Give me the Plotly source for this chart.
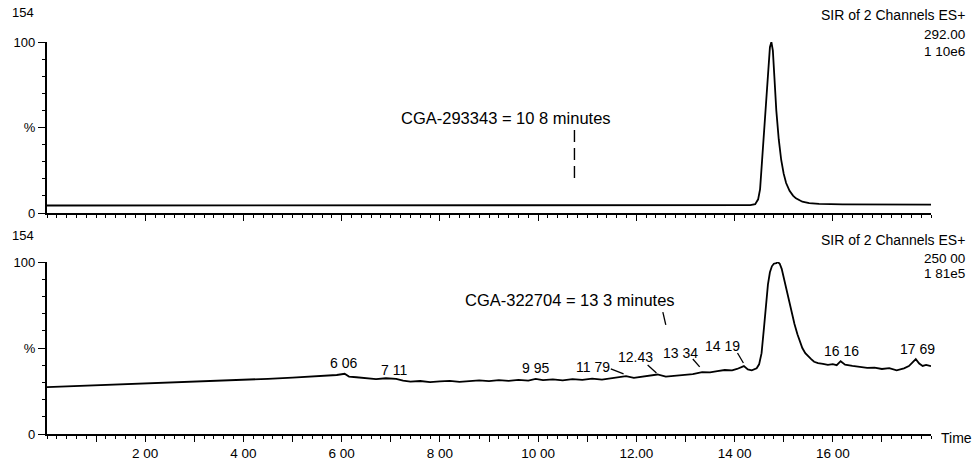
import plotly.graph_objects as go

# ---------------- data ----------------
top_time = [0.0, 1.0, 2.0, 3.0, 4.0, 5.0, 6.0, 7.0, 8.0, 9.0, 10.0, 11.0, 12.0, 13.0, 14.0,
            14.32, 14.42, 14.48, 14.52, 14.56, 14.60, 14.64, 14.68, 14.72, 14.75, 14.78,
            14.81, 14.85, 14.90, 14.95, 15.00, 15.05, 15.12, 15.19, 15.25, 15.38, 15.52,
            15.72, 16.2, 16.6, 17.0, 17.5, 18.0]
top_pct = [4.4, 4.4, 4.4, 4.4, 4.4, 4.4, 4.3, 4.4, 4.4, 4.4, 4.4, 4.4, 4.4, 4.5, 4.5,
           4.6, 5.2, 8.0, 14.0, 30.0, 48.0, 62.0, 80.0, 97.0, 100.0, 95.0,
           80.0, 60.0, 43.0, 31.0, 23.0, 17.5, 13.0, 10.2, 8.6, 6.6, 5.8,
           5.3, 5.1, 5.0, 5.0, 4.9, 4.9]

bot_time = [0.0, 0.5, 1.0, 1.5, 2.0, 2.5, 3.0, 3.5, 4.0, 4.5, 5.0, 5.5, 5.9, 6.06, 6.15,
            6.3, 6.5, 6.7, 6.9, 7.11, 7.25, 7.4, 7.6, 7.8, 8.0, 8.2, 8.4, 8.6, 8.8, 9.0,
            9.2, 9.4, 9.6, 9.8, 9.95, 10.1, 10.3, 10.5, 10.7, 10.9, 11.1, 11.3, 11.5,
            11.65, 11.79, 11.95, 12.1, 12.25, 12.43, 12.6, 12.8, 13.0, 13.15, 13.34,
            13.5, 13.65, 13.8, 13.95, 14.05, 14.19, 14.27, 14.35, 14.45, 14.50, 14.55,
            14.60, 14.64, 14.68, 14.72, 14.76, 14.80, 14.85, 14.88, 14.92, 14.96, 15.00,
            15.04, 15.08, 15.12, 15.16, 15.22, 15.28, 15.33, 15.38, 15.44, 15.50, 15.56,
            15.62, 15.70, 15.80, 15.90, 16.00, 16.08, 16.16, 16.25, 16.4, 16.55, 16.7,
            16.85, 17.0, 17.15, 17.3, 17.45, 17.55, 17.62, 17.69, 17.76, 17.83, 17.9, 18.0]
bot_pct = [27.3, 27.8, 28.2, 28.8, 29.3, 29.9, 30.4, 31.0, 31.5, 32.1, 32.8, 33.6, 34.3, 35.0, 33.4,
           33.0, 32.3, 31.9, 32.4, 32.0, 31.0, 30.4, 30.8, 30.2, 30.6, 30.9, 30.3, 30.8, 31.2, 30.7,
           31.3, 30.9, 31.5, 31.0, 32.0, 31.3, 31.8, 31.2, 31.9, 31.5, 32.2, 31.6, 32.3,
           32.8, 33.6, 32.6, 33.2, 33.8, 34.6, 33.4, 33.9, 34.4, 34.8, 36.0,
           35.8, 36.6, 37.2, 37.0, 37.8, 39.5, 37.6, 37.0, 38.2, 40.5, 47.0,
           62.0, 77.0, 87.0, 94.0, 97.5, 99.0, 99.3, 100.0, 99.0, 96.0, 91.0,
           85.0, 80.0, 75.0, 70.0, 64.0, 58.0, 54.0, 50.0, 47.0, 45.0, 43.5,
           42.0, 41.2, 40.8, 40.2, 40.6, 40.0, 42.3, 40.3, 39.6, 39.0, 38.4,
           38.6, 37.8, 38.3, 37.0, 38.2, 39.5, 41.5, 43.5, 41.0, 39.6, 40.2, 39.4]

x_tickvals = [1, 2, 3, 4, 5, 6, 7, 8, 9, 10, 11, 12, 13, 14, 15, 16, 17]
x_ticktext = ["", "2 00", "", "4 00", "", "6 00", "", "8 00", "", "10 00", "",
              "12.00", "", "14 00", "", "16 00", ""]
y_tickvals = [0, 50, 100]
y_ticktext = ["0", "%", "100"]

# peak labels (text, time, %)
top_peak_labels = [("14 83", 14.73, 105.5)]
bot_peak_labels = [("6 06", 6.04, 41.3), ("7 11", 7.06, 37.2), ("9 95", 9.95, 38.4),
                   ("11 79", 11.11, 39.0), ("12.43", 11.99, 44.8), ("13 34", 12.90, 47.1),
                   ("14 19", 13.76, 51.2), ("14 88", 14.84, 104.1), ("16 16", 16.18, 48.3),
                   ("17 69", 17.73, 49.4)]

W, H = 977, 467
FONT = "Liberation Sans, Arial, sans-serif"
L, R = 47, 931

def px(x):
    return x / W

def py(y):
    return 1 - y / H

fig = go.Figure()
fig.add_trace(go.Scatter(x=top_time, y=top_pct, mode="lines",
                         line=dict(color="black", width=1.8), xaxis="x", yaxis="y",
                         hoverinfo="skip", showlegend=False, cliponaxis=False))
fig.add_trace(go.Scatter(x=bot_time, y=bot_pct, mode="lines",
                         line=dict(color="black", width=1.8), xaxis="x2", yaxis="y2",
                         hoverinfo="skip", showlegend=False, cliponaxis=False))

xcommon = dict(range=[0, 18.0], domain=[px(L), px(R)], showgrid=False, zeroline=False,
               showline=True, linecolor="black", linewidth=2.4,
               ticks="outside", ticklen=6, tickwidth=1.4, tickcolor="black",
               tickvals=x_tickvals, ticktext=x_ticktext,
               minor=dict(dtick=0.2, tick0=0, ticks="outside", ticklen=3,
                          tickwidth=1.1, tickcolor="black"),
               tickfont=dict(family=FONT, size=13.5, color="black"),
               automargin=False, fixedrange=True)
ycommon = dict(range=[0, 100], showgrid=False, zeroline=False,
               showline=True, linecolor="black", linewidth=2.4,
               ticks="outside", ticklen=7, tickwidth=1.4, tickcolor="black",
               tickvals=y_tickvals, ticktext=y_ticktext, ticklabelstandoff=0,
               minor=dict(dtick=10, tick0=0, ticks="outside", ticklen=3,
                          tickwidth=1.1, tickcolor="black"),
               tickfont=dict(family=FONT, size=13, color="black"),
               automargin=False, fixedrange=True)

fig.update_layout(
    width=W, height=H,
    margin=dict(l=0, r=0, t=0, b=0),
    paper_bgcolor="white", plot_bgcolor="white",
    xaxis=dict(**xcommon, anchor="y", showticklabels=False),
    yaxis=dict(**ycommon, anchor="x", domain=[py(213), py(42)]),
    xaxis2=dict(**xcommon, anchor="y2"),
    yaxis2=dict(**ycommon, anchor="x2", domain=[py(434), py(262)]),
    font=dict(family=FONT, size=13, color="black"),
)

ann = []
def paper_text(t, x, y, xanchor="center", size=13):
    ann.append(dict(text=t, x=px(x), y=py(y), xref="paper", yref="paper",
                    xanchor=xanchor, yanchor="middle", showarrow=False,
                    font=dict(family=FONT, size=size, color="black")))

paper_text("154", 23, 13, size=13)
paper_text("154", 23, 235, size=13)
paper_text("SIR of 2 Channels ES+", 967, 15, "right", 14)
paper_text("292.00", 967, 34, "right", 13.5)
paper_text("1 10e6", 967, 52, "right", 13.5)
paper_text("SIR of 2 Channels ES+", 967, 240, "right", 14)
paper_text("250 00", 967, 258, "right", 13.5)
paper_text("1 81e5", 967, 273, "right", 13.5)
paper_text("Time", 939, 438, "left", 14)

for t, x, y in top_peak_labels:
    ann.append(dict(text=t, x=x, y=y, xref="x", yref="y", showarrow=False,
                    font=dict(family=FONT, size=14, color="black")))
for t, x, y in bot_peak_labels:
    ann.append(dict(text=t, x=x, y=y, xref="x2", yref="y2", showarrow=False,
                    font=dict(family=FONT, size=14, color="black")))

ann.append(dict(text="CGA-293343 = 10 8 minutes", x=9.34, y=55.6, xref="x", yref="y",
                showarrow=False, font=dict(family=FONT, size=16.5, color="black")))
ann.append(dict(text="CGA-322704 = 13 3 minutes", x=10.64, y=77.9, xref="x2", yref="y2",
                showarrow=False, font=dict(family=FONT, size=16.5, color="black")))
fig.update_layout(annotations=ann)

shapes = [
    dict(type="line", x0=10.74, x1=10.74, y0=48.5, y1=17.5, xref="x", yref="y",
         line=dict(color="black", width=1.4, dash="12px,6px")),
    dict(type="line", x0=12.54, x1=12.60, y0=70.9, y1=63.4, xref="x2", yref="y2",
         line=dict(color="black", width=1.3)),
    dict(type="line", x0=11.48, x1=11.74, y0=37.8, y1=34.9, xref="x2", yref="y2",
         line=dict(color="black", width=1.3)),
    dict(type="line", x0=12.23, x1=12.41, y0=40.1, y1=35.5, xref="x2", yref="y2",
         line=dict(color="black", width=1.3)),
    dict(type="line", x0=13.15, x1=13.29, y0=43.6, y1=39.0, xref="x2", yref="y2",
         line=dict(color="black", width=1.3)),
    dict(type="line", x0=14.06, x1=14.18, y0=47.1, y1=41.3, xref="x2", yref="y2",
         line=dict(color="black", width=1.3)),
]
fig.update_layout(shapes=shapes)

fig.write_html("out.html")
